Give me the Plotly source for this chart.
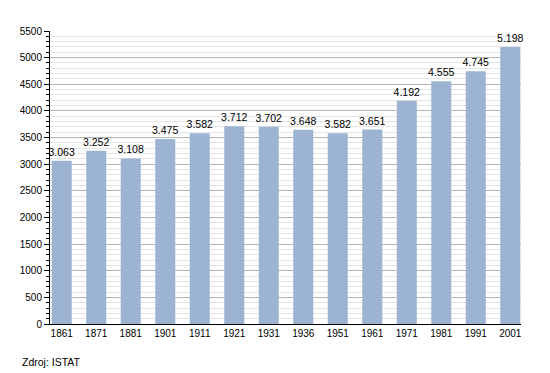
import plotly.graph_objects as go

years = ["1861", "1871", "1881", "1901", "1911", "1921", "1931", "1936", "1951", "1961", "1971", "1981", "1991", "2001"]
population = [3063, 3252, 3108, 3475, 3582, 3712, 3702, 3648, 3582, 3651, 4192, 4555, 4745, 5198]
labels = [f"{v:,}".replace(",", ".") for v in population]

fig = go.Figure(go.Bar(
    x=list(range(len(years))), y=population,
    text=labels, textposition="outside", constraintext="none",
    textfont=dict(family="Liberation Sans, Arial", size=10.5, color="black"),
    marker=dict(color="#9cb4d1", line=dict(width=0)),
    width=0.58, cliponaxis=False,
))

fig.update_layout(
    width=550, height=373,
    margin=dict(l=50, r=29, t=31, b=49, autoexpand=False),
    paper_bgcolor="white", plot_bgcolor="white",
    font=dict(family="Liberation Sans, Arial", size=10, color="black"),
    showlegend=False,
    xaxis=dict(
        range=[-0.34, 13.31], tickmode="array",
        tickvals=list(range(len(years))), ticktext=years,
        showgrid=False, showline=True, linecolor="black", linewidth=1,
        ticks="", zeroline=False, automargin=False,
    ),
    yaxis=dict(
        range=[0, 5500], dtick=500, tick0=0,
        showgrid=True, gridcolor="#b4b4b4", gridwidth=1,
        showline=True, linecolor="black", linewidth=1,
        ticks="outside", ticklen=5, tickcolor="black",
        zeroline=False, automargin=False,
        minor=dict(dtick=100, showgrid=True, gridcolor="#e4e4e4", gridwidth=1,
                   ticks="outside", ticklen=3, tickcolor="black"),
    ),
    annotations=[dict(
        text="Zdroj: ISTAT", xref="paper", yref="paper",
        x=-0.064, y=-0.13, xanchor="left", yanchor="middle",
        showarrow=False, font=dict(size=10.5, color="black"),
    )],
)

fig.write_html(
    "out.html",
    config={"displayModeBar": False},
    post_script="document.body.style.margin='0';document.body.style.padding='0';document.body.style.overflow='hidden';",
)
